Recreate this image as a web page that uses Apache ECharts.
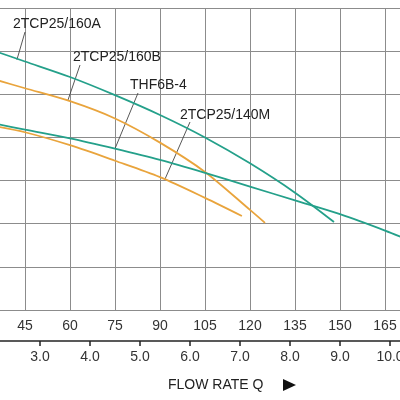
<!DOCTYPE html>
<html>
<head>
<meta charset="utf-8">
<script src="https://cdn.jsdelivr.net/npm/echarts@6.0.0/dist/echarts.min.js"></script>
<style>
  html, body { margin: 0; padding: 0; background: #fff; }
  #container { width: 400px; height: 400px; }
</style>
</head>
<body>
<div id="container"></div>
<script>
// flow rate in L/min, head in m (y scale, labels are cropped out)
const tcp160A = [[35, 30.0], [45, 28.8], [60, 27.0], [75, 24.9], [90, 22.6], [105, 20.0], [120, 17.0], [135, 13.6], [148, 10.2]]
const tcp160B = [[35, 26.7], [45, 25.7], [60, 24.2], [75, 22.2], [90, 19.4], [105, 16.0], [120, 11.6], [125, 10.1]]
const thf6b4 = [[35, 21.6], [45, 20.9], [60, 19.9], [75, 18.7], [90, 17.4], [105, 15.9], [120, 14.3], [135, 12.7], [150, 11.1], [165, 9.2], [175, 7.8]]
const tcp140M = [[35, 21.3], [45, 20.6], [60, 19.1], [75, 17.3], [90, 15.4], [105, 13.0], [117.3, 10.9]]

const flowTicks = { min: 30, max: 180, step: 15 }      // L/min
const m3hTicks = { min: 2, max: 11, step: 1 }           // m3/h
const headTicks = { min: 0, max: 35, step: 5 }

const teal = '#24a08a'
const orange = '#e9a43c'
const font = '"Liberation Sans", Arial, Helvetica, sans-serif'

// label text, label left/middle in px, leader start px, leader end on curve (data)
const curveLabels = [
  { text: '2TCP25/160A', x: 13, y: 24, from: [25, 32], to: [42.3, 29.0] },
  { text: '2TCP25/160B', x: 73, y: 57, from: [80, 65], to: [59.3, 24.3] },
  { text: 'THF6B-4', x: 130, y: 85, from: [138, 93], to: [75, 18.7] },
  { text: '2TCP25/140M', x: 180, y: 115, from: [190, 122], to: [91.7, 15.2] }
]

const myChart = echarts.init(document.getElementById('container'))

const lineSeries = (name, data, color) => ({
  name,
  type: 'line',
  xAxisIndex: 0,
  yAxisIndex: 0,
  data,
  smooth: 0.3,
  showSymbol: false,
  lineStyle: { color, width: 1.8 },
  itemStyle: { color },
  silent: true
})

myChart.setOption({
  animation: false,
  grid: [
    { left: -20, width: 450, top: 8, height: 302, outerBoundsMode: 'none' },
    { left: -10, width: 450, top: 340, height: 1, outerBoundsMode: 'none' }
  ],
  xAxis: [
    {
      gridIndex: 0,
      type: 'value',
      min: flowTicks.min,
      max: flowTicks.max,
      interval: flowTicks.step,
      axisLine: { show: true, lineStyle: { color: '#8c8c8c', width: 1 } },
      axisTick: { show: false },
      axisLabel: { color: '#333', fontSize: 14, fontFamily: font, margin: 9 },
      splitLine: { show: true, lineStyle: { color: '#8c8c8c', width: 1 } }
    },
    {
      gridIndex: 1,
      type: 'value',
      min: m3hTicks.min,
      max: m3hTicks.max,
      interval: m3hTicks.step,
      axisLine: { show: true, lineStyle: { color: '#222', width: 1.5 } },
      axisTick: { show: true, length: 5, lineStyle: { color: '#222', width: 1.5 } },
      axisLabel: { color: '#333', fontSize: 14, fontFamily: font, margin: 9, formatter: (v) => v.toFixed(1) },
      splitLine: { show: false }
    }
  ],
  yAxis: [
    {
      gridIndex: 0,
      type: 'value',
      min: headTicks.min,
      max: headTicks.max,
      interval: headTicks.step,
      axisLine: { show: false },
      axisTick: { show: false },
      axisLabel: { show: false },
      splitLine: { show: true, lineStyle: { color: '#8c8c8c', width: 1 } }
    },
    { gridIndex: 1, type: 'value', show: false }
  ],
  series: [
    lineSeries('2TCP25/160A', tcp160A, teal),
    lineSeries('2TCP25/160B', tcp160B, orange),
    lineSeries('THF6B-4', thf6b4, teal),
    lineSeries('2TCP25/140M', tcp140M, orange)
  ]
})

const graphics = []
curveLabels.forEach((l) => {
  const end = myChart.convertToPixel({ gridIndex: 0 }, l.to)
  graphics.push({
    type: 'line',
    silent: true,
    shape: { x1: l.from[0], y1: l.from[1], x2: end[0], y2: end[1] },
    style: { stroke: '#444', lineWidth: 0.9 }
  })
  graphics.push({
    type: 'text',
    silent: true,
    style: { text: l.text, x: l.x, y: l.y, fill: '#222', font: '14px ' + font, align: 'left', verticalAlign: 'middle' }
  })
})
graphics.push({
  type: 'text',
  silent: true,
  style: { text: 'FLOW RATE Q', x: 168, y: 385, fill: '#222', font: '14px ' + font, align: 'left', verticalAlign: 'middle' }
})
graphics.push({
  type: 'polygon',
  silent: true,
  shape: { points: [[283, 379], [296, 385], [283, 391]] },
  style: { fill: '#111' }
})

myChart.setOption({ graphic: graphics })
</script>
</body>
</html>
